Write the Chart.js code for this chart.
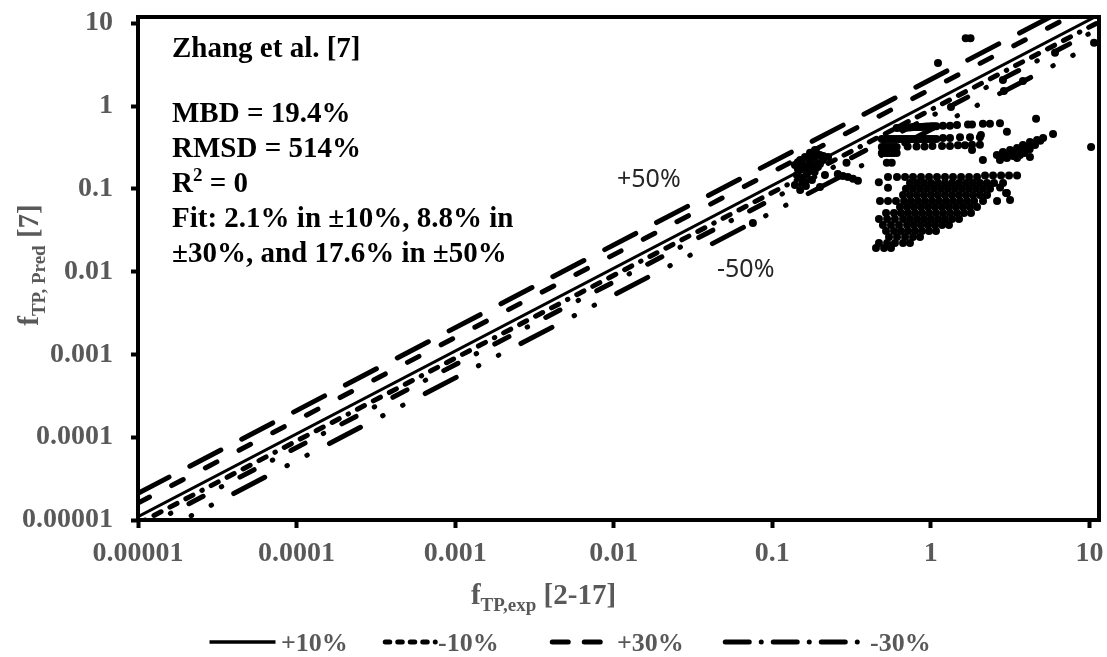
<!DOCTYPE html>
<html>
<head>
<meta charset="utf-8">
<script src="https://cdn.jsdelivr.net/npm/chart.js@4.4.1/dist/chart.umd.min.js"></script>
<style>
  html, body { margin: 0; padding: 0; background: #fff; }
  canvas { display: block; }
</style>
</head>
<body>
<canvas id="chart" width="1107" height="657"></canvas>
<script>
// axis ticks
const tickValues = [0.00001, 0.0001, 0.001, 0.01, 0.1, 1, 10];
const tickLabels = ['0.00001', '0.0001', '0.001', '0.01', '0.1', '1', '10'];

// error band lines (end points)
const plus50 = [[0.00001, 0.000021], [11.5, 24.15]];
const plus30 = [[0.00001, 0.000016], [11.5, 18.4]];
const plus10 = [[0.00001, 0.000011], [11.5, 12.65]];
const minus10 = [[0.00001, 0.000009], [11.5, 10.35]];
const minus30 = [[0.00001, 0.0000075], [11.5, 8.63]];
const minus50 = [[0.00001, 0.0000052], [11.5, 5.98]];

// measured vs predicted points [f_exp, f_pred]
const clusterNear01 = [
  [0.139, 0.194], [0.150, 0.223], [0.161, 0.243], [0.173, 0.272], [0.186, 0.295],
  [0.150, 0.169], [0.161, 0.184], [0.173, 0.211], [0.186, 0.236], [0.200, 0.257],
  [0.143, 0.147], [0.156, 0.136], [0.168, 0.160], [0.181, 0.179], [0.194, 0.194],
  [0.209, 0.223], [0.225, 0.243], [0.139, 0.111], [0.150, 0.097], [0.163, 0.108],
  [0.178, 0.128], [0.200, 0.105], [0.215, 0.147],
  [0.145, 0.21], [0.155, 0.20], [0.17, 0.23], [0.18, 0.25], [0.19, 0.27], [0.165, 0.15],
  [0.185, 0.16], [0.20, 0.20], [0.21, 0.25], [0.175, 0.19], [0.155, 0.12], [0.145, 0.175],
  [0.259, 0.151], [0.279, 0.143], [0.300, 0.139], [0.323, 0.132], [0.347, 0.125]
];

const upperRows = [
  [0.609, 0.544], [0.632, 0.545], [0.655, 0.55], [0.68, 0.55], [0.704, 0.55], [0.73, 0.552],
  [0.756, 0.555], [0.785, 0.558], [0.813, 0.56], [0.843, 0.56], [0.874, 0.56], [0.906, 0.562],
  [0.939, 0.565], [0.974, 0.567], [1.009, 0.57], [1.046, 0.57], [1.084, 0.57], [1.194, 0.58],
  [1.321, 0.58], [1.463, 0.59], [1.716, 0.60], [1.819, 0.60], [2.13, 0.61], [2.36, 0.61], [2.73, 0.62],
  [0.491, 0.40], [0.509, 0.40], [0.528, 0.40], [0.547, 0.40], [0.567, 0.40], [0.588, 0.40],
  [0.609, 0.40], [0.632, 0.40], [0.655, 0.40], [0.68, 0.40], [0.704, 0.40], [0.73, 0.40],
  [0.756, 0.40], [0.785, 0.40], [0.813, 0.40], [0.843, 0.40], [0.874, 0.40], [0.906, 0.40],
  [0.939, 0.40], [0.974, 0.40], [1.009, 0.40], [1.046, 0.40], [1.084, 0.40],
  [1.194, 0.41], [1.321, 0.41], [1.528, 0.42], [1.767, 0.42], [2.04, 0.42],
  [0.491, 0.32], [0.509, 0.32], [0.528, 0.32], [0.547, 0.32], [0.567, 0.32], [0.588, 0.32],
  [0.609, 0.32], [0.714, 0.325], [0.813, 0.325], [0.913, 0.325], [1.024, 0.33], [1.177, 0.33],
  [1.321, 0.33], [1.484, 0.335], [1.642, 0.335], [1.819, 0.34], [2.04, 0.34], [1.82, 0.295],
  [0.491, 0.27], [0.509, 0.27], [0.528, 0.27], [0.547, 0.27], [0.567, 0.27], [0.588, 0.27], [0.609, 0.27],
  [0.528, 0.206], [0.567, 0.206]
];

const rightBlob = [
  [2.61, 0.257], [2.85, 0.279], [3.16, 0.295], [3.50, 0.312], [3.81, 0.339], [4.22, 0.368],
  [4.68, 0.39], [5.11, 0.412], [2.73, 0.223], [3.02, 0.236], [3.50, 0.236], [3.65, 0.257],
  [4.22, 0.243], [3.92, 0.295], [4.54, 0.339], [2.7, 0.25], [3.0, 0.26], [3.3, 0.28],
  [3.6, 0.30], [4.0, 0.32], [4.4, 0.35], [4.9, 0.38], [5.9, 0.461], [3.3, 0.25], [3.9, 0.27],
  [2.9, 0.24], [4.2, 0.30]
];

const lowerBlob = [
  [0.537, 0.139], [0.612, 0.139], [0.688, 0.139], [0.772, 0.139], [0.867, 0.139], [0.974, 0.139],
  [1.094, 0.139], [1.229, 0.139], [1.380, 0.139], [1.551, 0.139], [1.742, 0.139], [1.957, 0.139],
  [2.198, 0.145], [2.469, 0.145], [2.773, 0.145], [3.113, 0.145], [3.499, 0.145],
  [0.739, 0.118], [0.818, 0.118], [0.906, 0.118], [1.003, 0.118], [1.110, 0.118], [1.229, 0.118],
  [1.361, 0.118], [1.506, 0.118], [1.668, 0.118], [1.846, 0.118], [2.043, 0.118], [2.263, 0.118],
  [2.505, 0.118], [2.855, 0.118],
  [0.697, 0.100], [0.772, 0.100], [0.855, 0.100], [0.946, 0.100], [1.048, 0.100], [1.160, 0.100],
  [1.284, 0.100], [1.421, 0.100], [1.573, 0.100], [1.742, 0.100], [1.928, 0.100], [2.134, 0.100],
  [2.363, 0.100], [2.733, 0.104],
  [0.668, 0.0844], [0.739, 0.0844], [0.818, 0.0844], [0.906, 0.0844], [1.003, 0.0844], [1.110, 0.0844],
  [1.229, 0.0844], [1.361, 0.0844], [1.506, 0.0844], [1.668, 0.0844], [1.846, 0.0844], [2.043, 0.0844],
  [2.263, 0.0844], [2.982, 0.089],
  [0.478, 0.0714], [0.537, 0.0714], [0.603, 0.0714], [0.678, 0.0714], [0.750, 0.0714], [0.830, 0.0714],
  [0.919, 0.0714], [1.018, 0.0714], [1.126, 0.0714], [1.247, 0.0714], [1.380, 0.0714], [1.528, 0.0714],
  [1.692, 0.0714], [1.874, 0.0714], [2.134, 0.0714], [2.617, 0.0714], [3.160, 0.0734],
  [0.639, 0.0605], [0.708, 0.0605], [0.783, 0.0605], [0.867, 0.0605], [0.960, 0.0605], [1.063, 0.0605],
  [1.177, 0.0605], [1.302, 0.0605], [1.442, 0.0605], [1.597, 0.0605], [1.767, 0.0605], [1.957, 0.0605],
  [0.522, 0.0512], [0.586, 0.0512], [0.649, 0.0512], [0.718, 0.0512], [0.795, 0.0512], [0.880, 0.0512],
  [0.974, 0.0512], [1.078, 0.0512], [1.194, 0.0512], [1.321, 0.0512], [1.463, 0.0512], [1.620, 0.0512],
  [1.793, 0.0512],
  [0.471, 0.0433], [0.530, 0.0433], [0.594, 0.0433], [0.668, 0.0433], [0.739, 0.0433], [0.818, 0.0433],
  [0.906, 0.0433], [1.003, 0.0433], [1.110, 0.0433], [1.229, 0.0433], [1.361, 0.0433], [1.506, 0.0433],
  [0.499, 0.0366], [0.561, 0.0366], [0.630, 0.0366], [0.708, 0.0366], [0.783, 0.0366], [0.867, 0.0366],
  [0.960, 0.0366], [1.063, 0.0366], [1.177, 0.0366], [1.302, 0.0366],
  [0.522, 0.0310], [0.586, 0.0310], [0.649, 0.0310], [0.718, 0.0310], [0.795, 0.0310], [0.880, 0.0310],
  [0.974, 0.0310], [1.078, 0.0310],
  [0.545, 0.0262], [0.612, 0.0262], [0.688, 0.0262], [0.772, 0.0262], [0.855, 0.0262],
  [0.471, 0.0222], [0.530, 0.0222], [0.594, 0.0222], [0.668, 0.0222], [0.739, 0.0222],
  [0.451, 0.0193], [0.507, 0.0193], [0.561, 0.0193],
  [0.47, 0.12], [0.537, 0.103], [3.02, 0.089]
];

const scattered = [
  [1.66, 6.6], [1.78, 6.6], [1.11, 3.3], [10.7, 5.8], [6.07, 4.4], [2.85, 2.07], [3.81, 2.0],
  [2.89, 1.52], [1.34, 0.975], [4.61, 0.70], [3.02, 0.49], [2.07, 0.448], [2.13, 0.223],
  [10.25, 0.32], [0.0755, 0.0387], [0.294, 0.206]
];

const allPoints = [...clusterNear01, ...upperRows, ...rightBlob, ...lowerBlob, ...scattered];

const serif = '"Liberation Serif", "Times New Roman", serif';
const grey = '#595959';

function bandLine(label, pts, dash, width) {
  return {
    label: label,
    data: pts.map(p => ({ x: p[0], y: p[1] })),
    showLine: true,
    pointRadius: 0,
    borderColor: '#000',
    borderWidth: width,
    borderDash: dash,
    borderCapStyle: 'round',
    fill: false,
    order: 2
  };
}

// draws "f" + subscript + rest, centred on x
function drawSubText(ctx, main, sub, rest, cx, y, mainSize, subSize) {
  const mf = 'bold ' + mainSize + 'px ' + serif;
  const sf = 'bold ' + subSize + 'px ' + serif;
  ctx.font = mf;
  const w1 = ctx.measureText(main).width;
  const w3 = ctx.measureText(rest).width;
  ctx.font = sf;
  const w2 = ctx.measureText(sub).width;
  let x = cx - (w1 + w2 + w3) / 2;
  ctx.textAlign = 'left';
  ctx.textBaseline = 'alphabetic';
  ctx.font = mf;
  ctx.fillText(main, x, y);
  x += w1;
  ctx.font = sf;
  ctx.fillText(sub, x, y + 7);
  x += w2;
  ctx.font = mf;
  ctx.fillText(rest, x, y);
}

const deco = {
  id: 'deco',
  afterDraw(chart) {
    const ctx = chart.ctx;
    const a = chart.chartArea;
    ctx.save();

    // plot frame
    ctx.lineWidth = 4;
    ctx.strokeStyle = '#000';
    ctx.strokeRect(a.left, a.top, a.right - a.left, a.bottom - a.top);

    // annotation block
    ctx.fillStyle = '#000';
    ctx.textAlign = 'left';
    ctx.textBaseline = 'alphabetic';
    ctx.font = 'bold 29px ' + serif;
    ctx.fillText('Zhang et al. [7]', 172, 57);
    ctx.fillText('MBD = 19.4%', 172, 122);
    ctx.fillText('RMSD = 514%', 172, 157);
    ctx.fillText('R', 172, 192);
    let rw = ctx.measureText('R').width;
    ctx.font = 'bold 19px ' + serif;
    ctx.fillText('2', 172 + rw, 181);
    let sw = ctx.measureText('2').width;
    ctx.font = 'bold 29px ' + serif;
    ctx.fillText(' = 0', 172 + rw + sw, 192);
    ctx.fillText('Fit: 2.1% in \u00b110%, 8.8% in', 172, 226.5);
    ctx.fillText('\u00b130%, and 17.6% in \u00b150%', 172, 261.5);

    // +-50% labels
    ctx.font = '25px "Noto Sans", sans-serif';
    ctx.fillStyle = '#262626';
    ctx.fillText('+50%', 617, 187);
    ctx.fillText('-50%', 717, 277);

    // axis titles
    ctx.fillStyle = grey;
    drawSubText(ctx, 'f', 'TP,exp', ' [2-17]', 543.5, 604, 29, 19);
    ctx.save();
    ctx.translate(38, 265);
    ctx.rotate(-Math.PI / 2);
    drawSubText(ctx, 'f', 'TP, Pred', ' [7]', 0, 0, 29, 19);
    ctx.restore();

    // legend
    const ly = 642;
    const items = [
      { ds: 3, x0: 209.5, x1: 275.5, dash: [], w: 3.5, tx: 281 },
      { ds: 4, x0: 385.25, x1: 435.3, dash: [4.5, 8, 4.5, 8, 4.5, 8, 4.5, 8, 0.01, 8], w: 5, tx: 438 },
      { ds: 2, x0: 552.25, x1: 600.25, dash: [16, 16], w: 5, tx: 617 },
      { ds: 5, x0: 725.25, x1: 861, dash: [24, 12, 0.01, 12], w: 5, tx: 870 }
    ];
    ctx.strokeStyle = '#000';
    ctx.font = 'bold 26px ' + serif;
    ctx.fillStyle = grey;
    items.forEach(it => {
      ctx.beginPath();
      ctx.lineWidth = it.w;
      ctx.lineCap = it.dash.length ? 'round' : 'butt';
      ctx.setLineDash(it.dash);
      ctx.moveTo(it.x0, ly);
      ctx.lineTo(it.x1, ly);
      ctx.stroke();
      ctx.setLineDash([]);
      ctx.fillText(chart.data.datasets[it.ds].label, it.tx, ly + 9);
    });

    ctx.restore();
  }
};

const tickFont = { family: serif, size: 28, weight: 'bold' };

new Chart(document.getElementById('chart'), {
  type: 'scatter',
  data: {
    datasets: [
      {
        label: 'Zhang et al. [7]',
        data: allPoints.map(p => ({ x: p[0], y: p[1] })),
        pointRadius: 4,
        pointBackgroundColor: '#000',
        pointBorderWidth: 0,
        showLine: false,
        order: 1
      },
      bandLine('+50%', plus50, [35, 23.5], 5),
      bandLine('+30%', plus30, [13, 25], 5),
      bandLine('+10%', plus10, [], 3),
      bandLine('-10%', minus10, [8, 10, 8, 10, 8, 10, 8, 10, 0.5, 10], 5),
      bandLine('-30%', minus30, [16, 20.5, 0.5, 20.5], 5),
      bandLine('-50%', minus50, [35, 25, 0.5, 22, 0.5, 25], 5)
    ]
  },
  options: {
    responsive: false,
    animation: false,
    layout: { padding: { top: 17, right: 8, bottom: 0, left: 0 } },
    plugins: {
      legend: { display: false },
      tooltip: { enabled: false }
    },
    scales: {
      x: {
        type: 'logarithmic',
        min: 0.00001,
        max: 11.5,
        afterBuildTicks: s => { s.ticks = tickValues.map(v => ({ value: v })); },
        afterFit: s => { s.height = 137; s.paddingLeft = 0; s.paddingRight = 0; },
        ticks: {
          callback: (v, i) => tickLabels[i],
          font: tickFont,
          color: grey,
          padding: 9,
          maxRotation: 0,
          autoSkip: false
        },
        grid: { drawOnChartArea: false, drawTicks: true, tickLength: 8, tickWidth: 4, tickColor: '#000' },
        border: { display: false }
      },
      y: {
        type: 'logarithmic',
        min: 0.00001,
        max: 11.9,
        afterBuildTicks: s => { s.ticks = tickValues.map(v => ({ value: v })); },
        afterFit: s => { s.width = 138; s.paddingTop = 0; s.paddingBottom = 0; },
        ticks: {
          callback: (v, i) => tickLabels[i],
          font: tickFont,
          color: grey,
          padding: 18,
          autoSkip: false
        },
        grid: { drawOnChartArea: false, drawTicks: true, tickLength: 7, tickWidth: 4, tickColor: '#000' },
        border: { display: false }
      }
    }
  },
  plugins: [deco]
});
</script>
</body>
</html>
